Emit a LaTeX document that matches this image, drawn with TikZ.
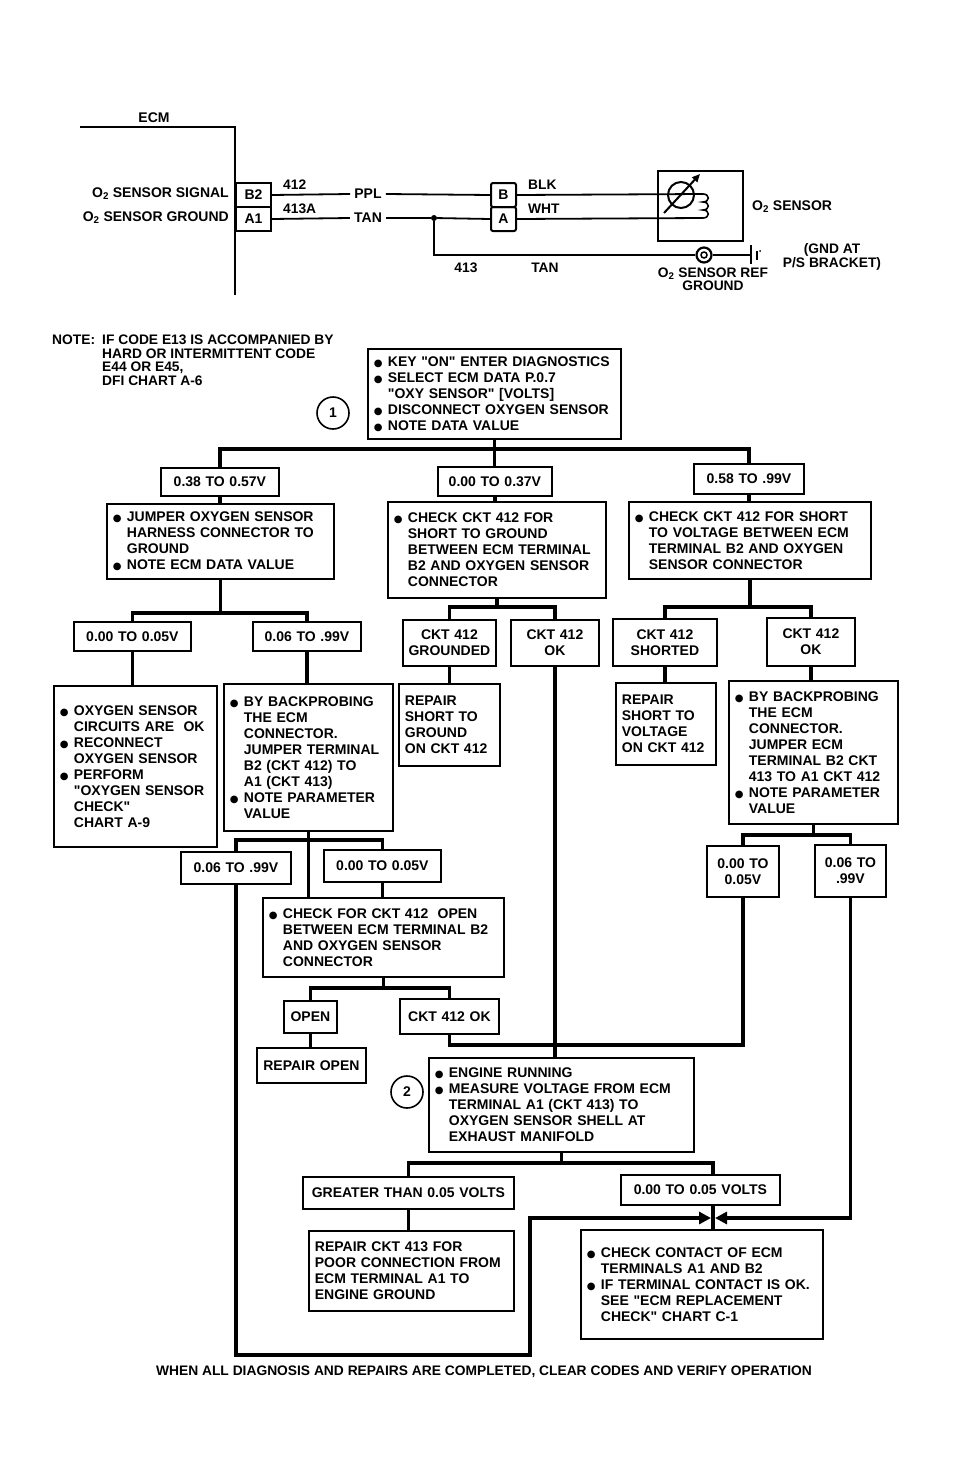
\documentclass[tikz,border=0pt]{standalone}
\usepackage{fontspec}
\setmainfont{Liberation Sans}
\newfontfamily\dvfont{DejaVu Sans}
\usetikzlibrary{arrows.meta}
\newcommand\ft{\fontsize{14}{16}\selectfont\bfseries}
\newcommand\fts{\fontsize{13.8}{12.8}\selectfont\bfseries}
\newcommand\bl{\makebox[14pt][l]{\dvfont\fontsize{10}{10}\selectfont ●}}
\newcommand\ind{\hspace*{14pt}}
\newcommand\q{\textquotedbl}
\tikzset{
  box/.style={draw, line width=1.8pt, anchor=north west, inner xsep=6pt, inner ysep=0pt, align=left, font=\ft},
  cbox/.style={draw, line width=1.8pt, anchor=north west, inner xsep=2pt, inner ysep=0pt, align=center, font=\ft},
  conn/.style={line width=3.8pt, line join=miter},
  wire/.style={line width=1.8pt},
  lbl/.style={font=\ft, inner sep=0pt},
  slbl/.style={font=\fts, inner sep=0pt},
  wlbl/.style={font=\ft, inner sep=4pt},
  pin/.style={draw, line width=2pt, anchor=north west, inner sep=0pt, font=\ft},
  numc/.style={circle, draw, line width=1.6pt, minimum size=32pt, inner sep=0pt, font=\ft},
  tip/.style={-{Triangle[length=12pt,width=12pt]}},
}
\newcommand\BX[6]{\pgfmathsetmacro\bw{#4-#2}\pgfmathsetmacro\bh{#5-#3}\pgfmathsetmacro\tw{#4-#2-12}%
  \node[box, minimum width=\bw pt, minimum height=\bh pt, text width=\tw pt] (#1) at (#2,#3) {#6};}
\newcommand\CB[6]{\pgfmathsetmacro\bw{#4-#2}\pgfmathsetmacro\bh{#5-#3}\pgfmathsetmacro\tw{#4-#2-4}%
  \node[cbox, minimum width=\bw pt, minimum height=\bh pt, text width=\tw pt] (#1) at (#2,#3) {#6};}
\begin{document}
\begin{tikzpicture}[x=1pt,y=-1pt]
\fill[white] (0,0) rectangle (954,1461);
\useasboundingbox (0,0) rectangle (954,1461);

% ---------------- wiring diagram ----------------
\node[lbl, anchor=south] (ecm) at (154,123) {ECM};
\coordinate (ecmL) at (80,127);
\coordinate (ecmC) at (235,127);
\coordinate (ecmB) at (235,295);
\draw[line width=2.6pt] (ecmL) -- (ecmC) -- (ecmB);
\node[pin, minimum width=35pt, minimum height=24pt] (pB2) at (235,182) {B2};
\node[pin, minimum width=35pt, minimum height=24pt] (pA1) at (235,206) {A1};
\node[lbl, anchor=east] (sig) at (229,194) {O\textsubscript{2} SENSOR SIGNAL};
\node[lbl, anchor=east] (sgn) at (229,218) {O\textsubscript{2} SENSOR GROUND};
\node[wlbl] (ppl) at (368,194) {PPL};
\node[wlbl] (tan1) at (368,218) {TAN};
\node[pin, rounded corners=2pt, minimum width=25pt, minimum height=24pt] (pB) at (490,182) {B};
\node[pin, rounded corners=2pt, minimum width=25pt, minimum height=24pt] (pA) at (490,206) {A};
\node[circle, fill, inner sep=0pt, minimum size=6pt] (dot) at (434,218) {};
\draw[wire] (pB2.east) -- (ppl.west);
\draw[wire] (ppl.east) -- (pB.west);
\draw[wire] (pA1.east) -- (tan1.west);
\draw[wire] (tan1.east) -- (dot) -- (pA.west);
\node[slbl, anchor=south west] (w412) at (283,190) {412};
\node[slbl, anchor=south west] (w413a) at (283,214) {413A};
\node[slbl, anchor=south west] (wblk) at (528,190) {BLK};
\node[slbl, anchor=south west] (wwht) at (528,214) {WHT};
% sensor
\node[draw, line width=2pt, anchor=north west, minimum width=85pt, minimum height=70pt] (sens) at (657,170) {};
\coordinate (cT) at (703,194);
\coordinate (cB) at (703,218);
\draw[wire] (pB.east) -- (cT);
\draw[wire] (pA.east) -- (cB);
\draw[line width=1.6pt] (cT) .. controls (710,194) and (710,202) .. (703,202)
  .. controls (710,202) and (710,210) .. (703,210)
  .. controls (710,210) and (710,218) .. (703,218);
\node[circle, draw, line width=2pt, minimum size=26pt, inner sep=0pt] (vr) at (681,195) {};
\draw[line width=2pt, -{Triangle[length=8pt,width=7pt]}] (664,213) -- (700,174);
\node[lbl, anchor=west] (o2s) at (752,207) {O\textsubscript{2} SENSOR};
% ground
\node[circle, draw, line width=2.2pt, minimum size=15pt, inner sep=0pt] (gnd) at (704,255) {};
\node[circle, draw, line width=1.5pt, minimum size=6pt, inner sep=0pt] (gndi) at (704,255) {};
\coordinate (gbar) at (751,255);
\draw[wire] (dot) |- (gnd.west);
\draw[wire] (gnd.east) -- (gbar);
\draw[line width=2pt] (751,245) -- (751,264);
\draw[line width=1.5pt] (757,251) -- (757,260);
\fill (760,251) circle (1pt);
\node[slbl, align=center] (gndat) at (832,257) {(GND AT\\P/S BRACKET)};
\node[slbl, align=center] (refg) at (713,279) {O\textsubscript{2} SENSOR REF\\GROUND};
\node[slbl] (w413) at (466,268) {413};
\node[slbl] (wtan) at (545,268) {TAN};

% ---------------- note ----------------
\node[slbl, anchor=north west, align=left] (note) at (52,335)
  {\begin{tabular}{@{}p{50pt}@{}l@{}}NOTE: & IF CODE E13 IS ACCOMPANIED BY\\ & HARD OR INTERMITTENT CODE\\ & E44 OR E45,\\ & DFI CHART A-6\end{tabular}};

% ---------------- flow chart ----------------
\BX{b1}{367}{348}{620}{438}{\bl KEY \q ON\q{} ENTER DIAGNOSTICS\\\bl SELECT ECM DATA P.0.7\\\ind \q OXY SENSOR\q{} [VOLTS]\\\bl DISCONNECT OXYGEN SENSOR\\\bl NOTE DATA VALUE}
\node[numc] (c1) at (333,413) {1};

\CB{r1a}{160}{467}{278}{495}{0.38 TO 0.57V}
\CB{r1b}{437}{466}{551}{495}{0.00 TO 0.37V}
\CB{r1c}{693}{463}{803}{493}{0.58 TO .99V}

\BX{b2a}{106}{503}{333}{578}{\bl JUMPER OXYGEN SENSOR\\\ind HARNESS CONNECTOR TO\\\ind GROUND\\\bl NOTE ECM DATA VALUE}
\BX{b2b}{387}{501}{605}{597}{\bl CHECK CKT 412 FOR\\\ind SHORT TO GROUND\\\ind BETWEEN ECM TERMINAL\\\ind B2 AND OXYGEN SENSOR\\\ind CONNECTOR}
\BX{b2c}{628}{501}{870}{578}{\bl CHECK CKT 412 FOR SHORT\\\ind TO VOLTAGE BETWEEN ECM\\\ind TERMINAL B2 AND OXYGEN\\\ind SENSOR CONNECTOR}

\CB{r2a}{73}{621}{190}{650}{0.00 TO 0.05V}
\CB{r2b}{252}{621}{360}{650}{0.06 TO .99V}
\CB{r2c}{402}{619}{495}{665}{CKT 412\\GROUNDED}
\CB{r2d}{510}{619}{598}{665}{CKT 412\\OK}
\CB{r2e}{612}{618}{716}{665}{CKT 412\\SHORTED}
\CB{r2f}{766}{617}{854}{665}{CKT 412\\OK}

\BX{b3a}{53}{685}{216}{846}{\bl OXYGEN SENSOR\\\ind CIRCUITS ARE\ \ OK\\\bl RECONNECT\\\ind OXYGEN SENSOR\\\bl PERFORM\\\ind \q OXYGEN SENSOR\\\ind CHECK\q\\\ind CHART A-9}
\BX{b3b}{223}{683}{392}{830}{\bl BY BACKPROBING\\\ind THE ECM\\\ind CONNECTOR.\\\ind JUMPER TERMINAL\\\ind B2 (CKT 412) TO\\\ind A1 (CKT 413)\\\bl NOTE PARAMETER\\\ind VALUE}
\BX{b3c}{398}{683}{499}{765}{REPAIR\\SHORT TO\\GROUND\\ON CKT 412}
\BX{b3d}{615}{682}{715}{764}{REPAIR\\SHORT TO\\VOLTAGE\\ON CKT 412}
\BX{b3e}{728}{680}{897}{823}{\bl BY BACKPROBING\\\ind THE ECM\\\ind CONNECTOR.\\\ind JUMPER ECM\\\ind TERMINAL B2 CKT\\\ind 413 TO A1 CKT 412\\\bl NOTE PARAMETER\\\ind VALUE}

\CB{r3a}{180}{851}{290}{883}{0.06 TO .99V}
\CB{r3b}{323}{849}{440}{881}{0.00 TO 0.05V}
\CB{r3c}{706}{845}{778}{896}{0.00 TO\\0.05V}
\CB{r3d}{814}{844}{885}{896}{0.06 TO\\.99V}

\BX{b4}{262}{897}{503}{976}{\bl CHECK FOR CKT 412\ \ OPEN\\\ind BETWEEN ECM TERMINAL B2\\\ind AND OXYGEN SENSOR\\\ind CONNECTOR}
\CB{r4a}{283}{1000}{336}{1032}{OPEN}
\CB{r4b}{399}{998}{498}{1033}{CKT 412 OK}
\CB{b5}{256}{1047}{365}{1082}{REPAIR OPEN}

\BX{b6}{428}{1057}{693}{1151}{\bl ENGINE RUNNING\\\bl MEASURE VOLTAGE FROM ECM\\\ind TERMINAL A1 (CKT 413) TO\\\ind OXYGEN SENSOR SHELL AT\\\ind EXHAUST MANIFOLD}
\node[numc] (c2) at (407,1092) {2};

\CB{r5a}{302}{1176}{513}{1208}{GREATER THAN 0.05 VOLTS}
\CB{r5b}{620}{1174}{779}{1204}{0.00 TO 0.05 VOLTS}
\BX{b7a}{308}{1230}{513}{1310}{REPAIR CKT 413 FOR\\POOR CONNECTION FROM\\ECM TERMINAL A1 TO\\ENGINE GROUND}
\BX{b7b}{580}{1229}{822}{1338}{\bl CHECK CONTACT OF ECM\\\ind TERMINALS A1 AND B2\\\bl IF TERMINAL CONTACT IS OK.\\\ind SEE \q ECM REPLACEMENT\\\ind CHECK\q{} CHART C-1}

\node[slbl] (foot) at (484,1372) {WHEN ALL DIAGNOSIS AND REPAIRS ARE COMPLETED, CLEAR CODES AND VERIFY OPERATION};

% ---------------- connectors ----------------
\coordinate (k1) at (493,449);
\draw[conn] (b1.south) -- (b1.south |- r1b.north);
\draw[conn] (r1a.north) |- (k1) -| (r1c.north);
\draw[conn] (r1a.south) -- (r1a.south |- b2a.north);
\draw[conn] (r1b.south) -- (r1b.south |- b2b.north);
\draw[conn] (r1c.south) -- (r1c.south |- b2c.north);

\coordinate (k2a) at (220,613);
\draw[conn] (b2a.south) -- (b2a.south |- k2a);
\draw[conn] (r2a.north) |- (k2a) -| (r2b.north);
\draw[conn] (r2a.south) -- (r2a.south |- b3a.north);
\draw[conn] (r2b.south) -- (r2b.south |- b3b.north);

\coordinate (k2b) at (497,607);
\draw[conn] (b2b.south) -- (b2b.south |- k2b);
\draw[conn] (r2c.north) |- (k2b) -| (r2d.north);
\draw[conn] (r2c.south) -- (r2c.south |- b3c.north);

\coordinate (k2c) at (750,607);
\draw[conn] (b2c.south) -- (b2c.south |- k2c);
\draw[conn] (r2e.north) |- (k2c) -| (r2f.north);
\draw[conn] (r2e.south) -- (r2e.south |- b3d.north);
\draw[conn] (r2f.south) -- (r2f.south |- b3e.north);

\coordinate (k3b) at (812,835);
\draw[conn] (b3e.south) -- (b3e.south |- k3b);
\draw[conn] (r3c.north) |- (k3b) -| (r3d.north);

\coordinate (k3a) at (308,840);
\draw[conn] (b3b.south) -- (b3b.south |- b4.north);
\draw[conn] (r3a.north) |- (k3a) -| (r3b.north);
\draw[conn] (r3b.south) -- (r3b.south |- b4.north);

\coordinate (k4) at (384,988);
\draw[conn] (b4.south) -- (b4.south |- k4);
\draw[conn] (r4a.north) |- (k4) -| (r4b.north);
\draw[conn] (r4a.south) -- (r4a.south |- b5.north);
\coordinate (m1) at (600,1045);
\draw[conn] (r4b.south) |- (m1) -| (r3c.south);
\draw[conn] (r2d.south) -- (r2d.south |- b6.north);

\coordinate (jx) at (713,1218);
\coordinate (k6) at (560,1163);
\coordinate (r5bt) at (r5b.north -| jx);
\coordinate (r5bb) at (r5b.south -| jx);
\coordinate (b7bt) at (b7b.north -| jx);
\draw[conn] (b6.south) -- (b6.south |- k6);
\draw[conn] (r5a.north) |- (k6) -| (r5bt);
\draw[conn] (r5a.south) -- (r5a.south |- b7a.north);
\draw[conn] (r5bb) -- (b7bt);

\coordinate (ja) at (711,1218);
\coordinate (jb) at (715,1218);
\coordinate (lp) at (530,1355);
\draw[conn, tip] (r3a.south) |- (lp) |- (ja);
\draw[conn, tip] (r3d.south) |- (jb);
\end{tikzpicture}
\end{document}
